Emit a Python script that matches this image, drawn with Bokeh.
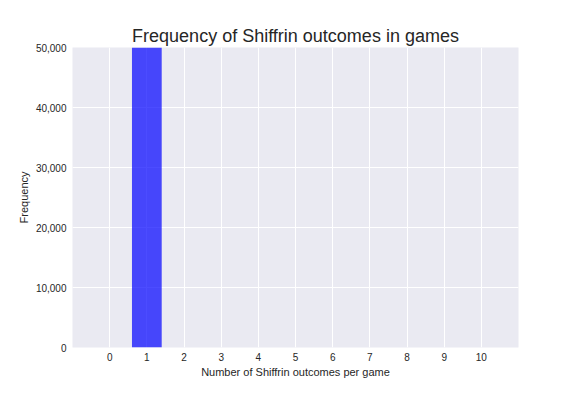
from bokeh.plotting import figure
from bokeh.models import FixedTicker, NumeralTickFormatter, Range1d
from bokeh.embed import file_html
from bokeh.resources import INLINE

outcomes = [0, 1, 2, 3, 4, 5, 6, 7, 8, 9, 10]
counts = [0, 60000, 0, 0, 0, 0, 0, 0, 0, 0, 0]
x_ticks = [0, 1, 2, 3, 4, 5, 6, 7, 8, 9, 10]
y_ticks = [0, 10000, 20000, 30000, 40000, 50000]

FONT = "Liberation Sans"
TXT = "#262626"

p = figure(frame_width=446, frame_height=300, output_backend="svg", toolbar_location=None,
           x_range=Range1d(-1, 11), y_range=Range1d(0, 50000),
           min_border_left=64, min_border_right=40, min_border_top=47, min_border_bottom=30,
           title="Frequency of Shiffrin outcomes in games")
p.margin = (0, 0, 0, 8)
p.background_fill_color = "#EAEAF2"
p.border_fill_color = "white"
p.outline_line_color = None

p.title.align = "center"
p.title.text_font = FONT
p.title.text_font_size = "18px"
p.title.text_font_style = "normal"
p.title.text_color = TXT
p.title.standoff = 4

p.vbar(x=outcomes, top=counts, width=0.8, fill_color="blue", fill_alpha=0.7, line_color=None)

for ax in (p.xaxis[0], p.yaxis[0]):
    ax.axis_line_color = None
    ax.major_tick_line_color = None
    ax.minor_tick_line_color = None
    ax.major_tick_out = 0
    ax.major_tick_in = 0
    ax.minor_tick_out = 0
    ax.minor_tick_in = 0
    ax.major_label_text_font = FONT
    ax.major_label_text_font_size = "10px"
    ax.major_label_text_color = TXT
    ax.axis_label_text_font = FONT
    ax.axis_label_text_font_size = "11px"
    ax.axis_label_text_font_style = "normal"
    ax.axis_label_text_color = TXT

p.xaxis.ticker = FixedTicker(ticks=x_ticks)
p.yaxis.ticker = FixedTicker(ticks=y_ticks)
p.yaxis.formatter = NumeralTickFormatter(format="0,0")
p.xaxis.axis_label = "Number of Shiffrin outcomes per game"
p.yaxis.axis_label = "Frequency"
p.xaxis.major_label_standoff = 5
p.yaxis.major_label_standoff = 6
p.xaxis.axis_label_standoff = 2
p.yaxis.axis_label_standoff = 3

p.grid.grid_line_color = "white"
p.grid.grid_line_width = 1
p.xgrid.ticker = FixedTicker(ticks=x_ticks)
p.ygrid.ticker = FixedTicker(ticks=y_ticks)

open("out.html", "w").write(file_html(p, INLINE))
